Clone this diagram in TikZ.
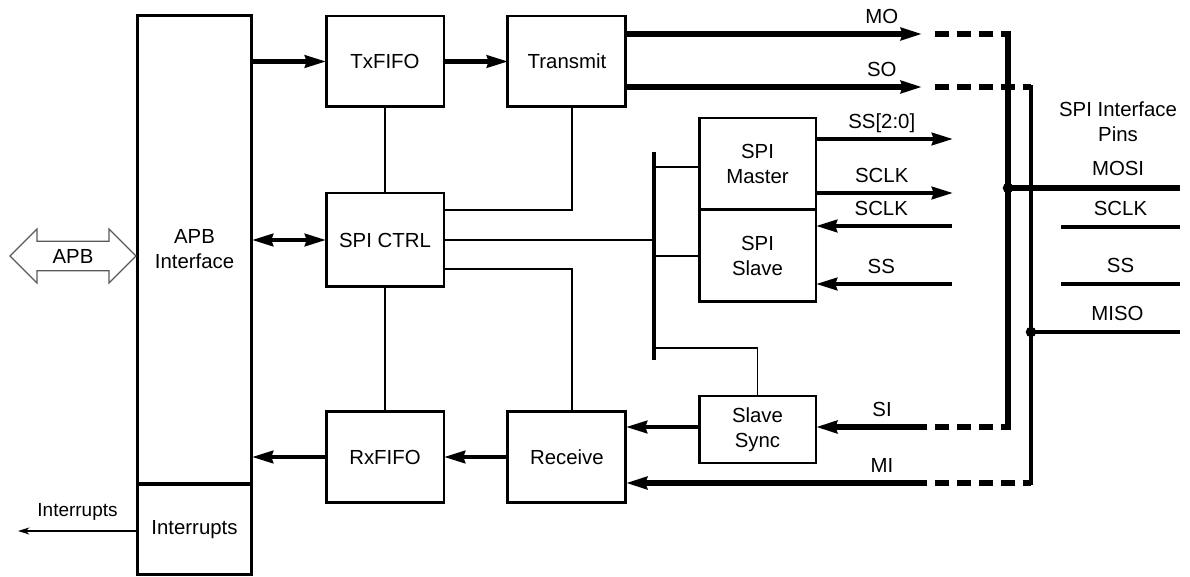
\documentclass[tikz,border=0pt]{standalone}
\usepackage{fontspec}
\setmainfont{Liberation Sans}
\usetikzlibrary{arrows.meta,positioning,calc,shapes.arrows}
\tikzset{
	box/.style={draw,line width=1.7pt,outer sep=0pt,align=center,font=\fontsize{11.6}{14.2}\selectfont,minimum width=2.36cm,minimum height=1.84cm,inner sep=2pt},
	lbl/.style={font=\fontsize{11.6}{14.2}\selectfont,inner sep=2pt,text depth=0pt},
	arr/.style={>={Stealth[length=12pt,width=7pt,inset=1pt]},line width=2.4pt},
	big/.style={line width=3.2pt},
	med/.style={line width=2.5pt},
	thn/.style={line width=0.75pt},
	dsh/.style={line width=3.2pt,dash pattern=on 8pt off 4.5pt}
}
\begin{document}
\begin{tikzpicture}[x=0.02cm,y=-0.02cm]
	\useasboundingbox (0,0) rectangle (1190,577);
	\node[box,minimum width=2.3cm,minimum height=9.38cm] (apbi) at (194.5,249.5) {APB\\Interface};
	\node[box,minimum width=2.3cm,minimum height=1.82cm] (intr) at (194.5,529.5) {Interrupts};
	\node[box,minimum height=1.82cm] (txf) at (385,61.5) {TxFIFO};
	\node[box,minimum height=1.82cm,right=1.28cm of txf] (tx) {Transmit};
	\node[box,minimum height=1.88cm] (ctl) at (385,240) {SPI CTRL};
	\node[box] (rxf) at (385,457) {RxFIFO};
	\node[box,right=1.28cm of rxf] (rx) {Receive};
	\node[box,minimum width=2.34cm] (mst) at (757.5,164) {SPI\\Master};
	\node[box,minimum width=2.34cm,below=0pt of mst] (slv) {SPI\\Slave};
	\node[box,minimum width=2.34cm,minimum height=1.34cm] (sync) at (757.5,429.5) {Slave\\Sync};
	\node[double arrow,draw=black!65,line width=0.7pt,double arrow head extend=7pt,double arrow tip angle=90,minimum height=2.52cm,inner sep=4pt,font=\fontsize{11.6}{14.2}\selectfont] (apb) at (73,256) {APB};
	\coordinate (iout) at (18,531);
	\draw[thn,-{Stealth[length=6.5pt,width=4pt]}] (intr.west |- iout) -- node[lbl,above=6pt,font=\fontsize{10.8}{13}\selectfont]{Interrupts} (iout);
	\draw[arr,->] (txf.west -| apbi.east) -- (txf);
	\draw[arr,->] (txf) -- (tx);
	\draw[arr,<->] (ctl.west -| apbi.east) -- (ctl);
	\draw[arr,->] (rx) -- (rxf);
	\draw[arr,->] (rxf) -- (rxf.west -| apbi.east);
	\draw[thn] (txf) -- (ctl) (ctl) -- (rxf);
	\draw[thn] ($(tx.south)+(5,0)$) |- ($(ctl.east)+(0,-30)$);
	\draw[thn] ($(rx.north)+(5,0)$) |- ($(ctl.east)+(0,29)$);
	\coordinate (bt) at (654,152);
	\coordinate (bb) at (654,360);
	\draw[med] (bt) -- (bb);
	\draw[thn] (ctl) -- (ctl -| bt);
	\draw[thn] ($(mst.west -| bt)+(0,3)$) -- ($(mst.west)+(0,3)$);
	\draw[thn] (slv.west -| bt) -- (slv.west);
	\draw[thn] ($(bb)+(0,-12)$) -| (sync.north);
	\foreach \y/\t in {139/{SS[2:0]},193/SCLK}{
		\coordinate (o\y) at (953,\y);
		\draw[arr,->] (mst.east |- o\y) -- node[lbl,above=2.5pt,pos=0.48]{\t} (o\y);
	}
	\foreach \y/\t in {226/SCLK,284/SS}{
		\coordinate (i\y) at (952,\y);
		\draw[arr,->] (i\y) -- node[lbl,above=2.5pt,pos=0.52]{\t} (slv.east |- i\y);
	}
	\coordinate (b1t) at (1008,34);
	\coordinate (b1b) at (1008,427);
	\coordinate (b2t) at (1031,87);
	\coordinate (b2b) at (1031,483);
	\draw[arr,->,big] (tx.east |- b1t) -- node[lbl,above=2.5pt,pos=0.864]{MO} ($(b1t)+(-86,0)$);
	\draw[dsh] ($(b1t)+(-73,0)$) -- (b1t);
	\draw[arr,->,big] (tx.east |- b2t) -- node[lbl,above=2.5pt,pos=0.864]{SO} ($(b2t)+(-109,0)$);
	\draw[dsh] ($(b2t)+(-96,0)$) -- (b2t);
	\draw[arr,->,big] ($(b1b)+(-81,0)$) -- node[lbl,above=2.5pt,pos=0.405]{SI} (sync.east |- b1b);
	\draw[dsh] ($(b1b)+(-73,0)$) -- (b1b);
	\draw[arr,->] (sync.west |- b1b) -- (rx.east |- b1b);
	\draw[arr,->,big] ($(b2b)+(-104,0)$) -- node[lbl,above=2.5pt,pos=0.15]{MI} (rx.east |- b2b);
	\draw[dsh] ($(b2b)+(-96,0)$) -- (b2b);
	\draw[big,line cap=rect] (b1t) -- (b1b);
	\draw[med,line cap=rect] (b2t) -- (b2b);
	\node[lbl,align=center] (pins) at (1118,122) {SPI Interface\\Pins};
	\coordinate (j1) at (1008,188);
	\coordinate (j2) at (1031,332);
	\fill (j1) circle (3pt) (j2) circle (3pt);
	\coordinate (mosi) at (1180,188);
	\coordinate (miso) at (1180,332);
	\draw[big] (j1) -- node[lbl,above=3.5pt,pos=0.64]{MOSI} (mosi);
	\draw[med] (j2) -- node[lbl,above=3.5pt,pos=0.58]{MISO} (miso);
	\foreach \y/\t in {227/SCLK,284/SS}{
		\coordinate (l\y) at (1061,\y);
		\coordinate (r\y) at (1180,\y);
		\draw[med] (l\y) -- node[lbl,above=3.5pt]{\t} (r\y);
	}
\end{tikzpicture}
\end{document}
